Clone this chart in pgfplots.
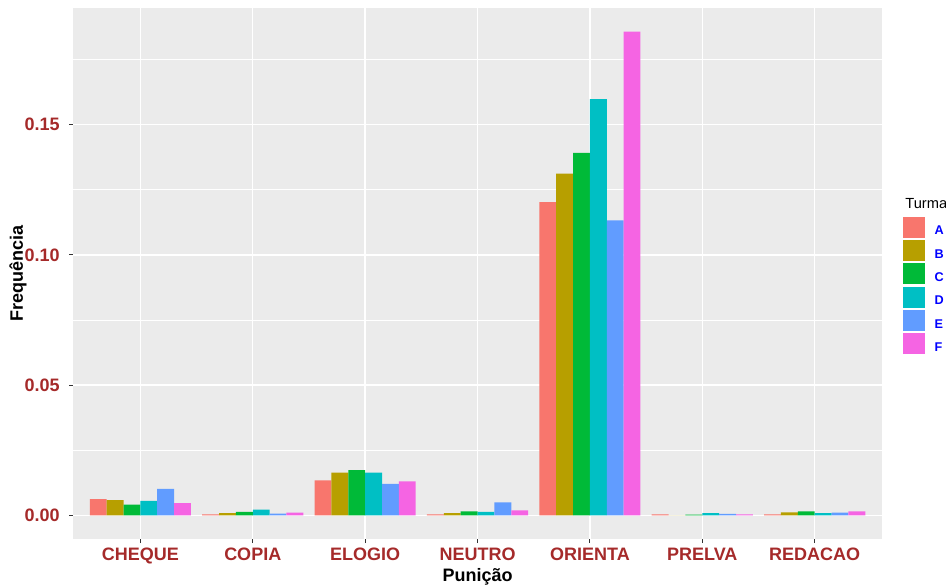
\documentclass[border=0pt]{standalone}
\usepackage{fontspec}
\setmainfont{Liberation Sans}
\usepackage{pgfplots}
\usepackage{pgfplotstable}
\pgfplotsset{compat=1.18}
\definecolor{cA}{HTML}{F8766D}
\definecolor{cB}{HTML}{B79F00}
\definecolor{cC}{HTML}{00BA38}
\definecolor{cD}{HTML}{00BFC4}
\definecolor{cE}{HTML}{619CFF}
\definecolor{cF}{HTML}{F564E3}
\definecolor{tickc}{HTML}{A52A2A}
\definecolor{panel}{HTML}{EBEBEB}

\pgfplotstableread{
x A B C D E F
0 0.0062 0.0058 0.0041 0.0055 0.0101 0.0047
1 0.0004 0.0008 0.0013 0.0022 0.0006 0.0010
2 0.0134 0.0164 0.0173 0.0164 0.0121 0.0130
3 0.0004 0.0008 0.0015 0.0013 0.0050 0.0019
4 0.1203 0.1312 0.1392 0.1598 0.1132 0.1857
5 0.0004 0.0000 0.0003 0.0008 0.0005 0.0004
6 0.0004 0.0011 0.0015 0.0008 0.0010 0.0015
}\datatable

\begin{document}
\begin{tikzpicture}
\begin{axis}[
  scale only axis,
  width=606.9pt, height=398.6pt,
  xmin=-0.6, xmax=6.6,
  ymin=-0.00928, ymax=0.1948,
  axis background/.style={fill=panel},
  axis line style={draw=none},
  ybar, bar width=0.15,
  xtick={0,1,2,3,4,5,6},
  xticklabels={CHEQUE,COPIA,ELOGIO,NEUTRO,ORIENTA,PRELVA,REDACAO},
  ytick={0,0.05,0.1,0.15},
  yticklabels={0.00,0.05,0.10,0.15},
  minor ytick={0.025,0.075,0.125,0.175},
  xmajorgrids, ymajorgrids, yminorgrids,
  major grid style={white, line width=1.1pt},
  minor grid style={white, line width=0.55pt},
  xtick pos=bottom, ytick pos=left,
  tick align=outside,
  major tick length=2.75pt, minor tick length=0pt,
  tick style={color=black!80, line width=0.7pt},
  ticklabel style={font=\fontsize{13.5}{16}\selectfont\bfseries, text=tickc},
  xticklabel style={anchor=base, inner sep=0pt, yshift=-13.35pt},
  yticklabel style={anchor=east, inner sep=0pt, xshift=-7pt},
  xlabel={Punição}, ylabel={Frequência},
  label style={font=\fontsize{13.5}{16}\selectfont\bfseries},
  xlabel style={at={(axis description cs:0.5,-0.0789)}, anchor=base, inner sep=0pt},
  ylabel style={at={(axis description cs:-0.0617,0.5)}, anchor=base, inner sep=0pt},
  legend image code/.code={\fill[#1] (0pt,-4.6pt) rectangle (16.5pt,11.15pt);},
  legend style={at={(axis description cs:1,0.6073)}, anchor=north west,
    xshift=15.9pt, draw=none, fill=none, inner sep=0pt, outer sep=0pt,
    row sep=1.75pt, column sep=7pt,
    font=\fontsize{9.5}{11}\selectfont\bfseries,
    nodes={text=blue, inner sep=0pt}},
  legend cell align=left,
]
\addplot[fill=cA, draw=none, bar shift=-0.375] table[x=x, y=A] {\datatable};
\addplot[fill=cB, draw=none, bar shift=-0.225] table[x=x, y=B] {\datatable};
\addplot[fill=cC, draw=none, bar shift=-0.075] table[x=x, y=C] {\datatable};
\addplot[fill=cD, draw=none, bar shift=0.075] table[x=x, y=D] {\datatable};
\addplot[fill=cE, draw=none, bar shift=0.225] table[x=x, y=E] {\datatable};
\addplot[fill=cF, draw=none, bar shift=0.375] table[x=x, y=F] {\datatable};
\legend{A,B,C,D,E,F}
\end{axis}
\node[anchor=base west, inner sep=0pt, font=\fontsize{11}{13}\selectfont]
  at ([xshift=17.2pt,yshift=-150.4pt]current axis.north east) {Turma};
\pgfresetboundingbox
\path[use as bounding box] ([xshift=-54.7pt,yshift=-34.1pt]current axis.south west)
  rectangle ([xshift=47.9pt,yshift=6pt]current axis.north east);
\end{tikzpicture}
\end{document}
